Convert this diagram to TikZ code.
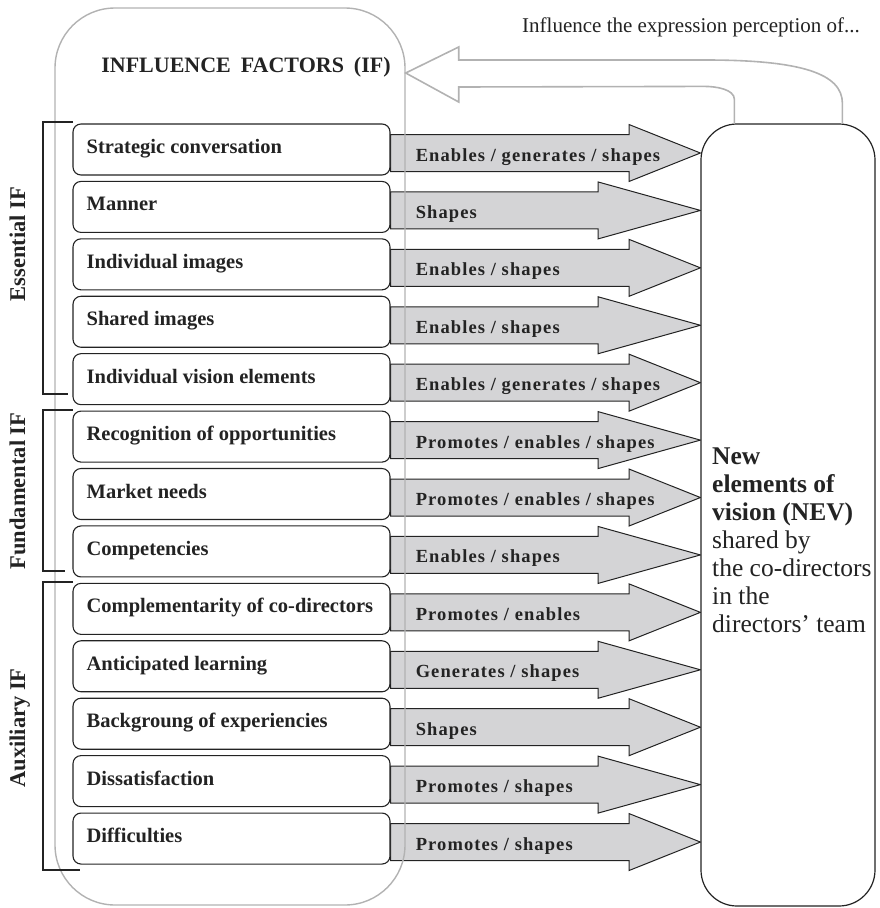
\documentclass[tikz,border=0pt]{standalone}
\usepackage{fontspec}
\setmainfont{Liberation Serif}
\newfontfamily\spacedbf[LetterSpace=6]{Liberation Serif}
\usetikzlibrary{calc,backgrounds}

\definecolor{arrowgray}{RGB}{212,212,214}
\definecolor{framegray}{RGB}{178,178,178}
\definecolor{inkdark}{RGB}{35,35,35}

\tikzset{
  factor/.style={draw=inkdark, line width=1.1pt, rounded corners=8pt, fill=white,
    minimum width=317pt, minimum height=51pt, inner sep=0pt},
  factortext/.style={inner sep=0pt, text=inkdark, font=\fontsize{20.5}{24}\selectfont\bfseries},
  flow/.style={draw=inkdark, fill=arrowgray, line width=1pt, line join=miter},
  verbtext/.style={inner sep=0pt, text=inkdark, font=\fontsize{18.5}{22}\spacedbf\bfseries},
  grouptext/.style={inner sep=0pt, text=inkdark, rotate=90, anchor=base,
    font=\fontsize{22.5}{26}\selectfont\bfseries},
  bracket/.style={draw=inkdark, line width=1.3pt},
  feedback/.style={draw=framegray, line width=1.6pt, line join=miter},
}

\begin{document}
\begin{tikzpicture}[x=1pt, y=-1pt]
    \useasboundingbox (0,0) rectangle (880,908);

    % Rahmen der Einflussfaktoren
    \node[draw=framegray, line width=1.4pt, rounded corners=60pt,
      minimum width=350pt, minimum height=897pt] (ifbox) at (230,456.5) {};
    \node[inner sep=0pt, text=inkdark, font=\fontsize{22}{26}\selectfont\bfseries]
      (title) at (246,67) {INFLUENCE\hspace{10pt}FACTORS\hspace{10pt}(IF)};

    % Neue Visionselemente
    \node[draw=inkdark, line width=1.2pt, rounded corners=36pt, fill=white,
      minimum width=174pt, minimum height=782pt] (nev) at (788,515) {};
    \node[anchor=north west, inner sep=0pt, align=left, text=inkdark,
      font=\fontsize{25.5}{28}\selectfont] (nevtext) at (712,448)
      {\textbf{New}\\ \textbf{elements of}\\ \textbf{vision (NEV)}\\ shared by\\
       the co-directors\\ in the\\ directors’ team};

    % Faktoren und Pfeile
    \foreach \txt/\verb/\hb [count=\i] in {
        {Strategic conversation}/{Enables / generates / shapes}/629,
        {Manner}/{Shapes}/598,
        {Individual images}/{Enables / shapes}/629,
        {Shared images}/{Enables / shapes}/598,
        {Individual vision elements}/{Enables / generates / shapes}/629,
        {Recognition of opportunities}/{Promotes / enables / shapes}/598,
        {Market needs}/{Promotes / enables / shapes}/629,
        {Competencies}/{Enables / shapes}/598,
        {Complementarity of co-directors}/{Promotes / enables}/629,
        {Anticipated learning}/{Generates / shapes}/598,
        {Backgroung of experiencies}/{Shapes}/629,
        {Dissatisfaction}/{Promotes / shapes}/598,
        {Difficulties}/{Promotes / shapes}/629} {
        \node[factor] (r\i) at (231.5,{149.5+57.42*(\i-1)}) {};
        \node[factortext, anchor=base west] (t\i) at ($(r\i.west)+(14,4)$) {\txt};
        \coordinate (s\i) at ($(r\i.east)+(0,3.5)$);
        \coordinate (hx\i) at (\hb,0);
        \coordinate (h\i) at (s\i -| hx\i);
        \coordinate (tip\i) at (nev.west |- s\i);
        \begin{pgfonlayer}{background}
          \filldraw[flow] ($(s\i)+(0,-18.5)$) -- ($(h\i)+(0,-18.5)$) -- ($(h\i)+(0,-28.5)$)
            -- (tip\i) -- ($(h\i)+(0,28.5)$) -- ($(h\i)+(0,18.5)$) -- ($(s\i)+(0,18.5)$) -- cycle;
        \end{pgfonlayer}
        \node[verbtext, anchor=base west] (v\i) at ($(s\i)+(25,8)$) {\verb};
    }

    % Gruppenklammern
    \draw[bracket] (73,122) -- (43,122) -- (43,394) -- (68,394);
    \draw[bracket] (73,410) -- (43,410) -- (43,571) -- (65,571);
    \draw[bracket] (73,582) -- (43,582) -- (43,870) -- (80,870);
    \node[grouptext] (essential) at (25,244) {Essential IF};
    \node[grouptext] (fundamental) at (25,491) {Fundamental IF};
    \node[grouptext] (auxiliary) at (25,728) {Auxiliary IF};

    % Rueckwirkung
    \coordinate (fbtip) at ($(ifbox.east |- title.center)+(0,6)$);
    \coordinate (fbin) at ($(nev.north west)+(34,0)$);
    \coordinate (fbout) at ($(nev.north west)+(142,0)$);
    \draw[feedback] (fbin) -- ++(0,-24) .. controls +(0,-10) and +(12,0) .. ++(-30,-13)
      -- ($(fbtip)+(53,14)$) -- ++(0,15) -- (fbtip) -- ++(53,-26) -- ++(0,13)
      -- ++(247,0) .. controls +(95,0) and +(0,-30) .. ($(fbout)+(0,-20)$) -- (fbout);
    \node[anchor=base west, inner sep=0pt, text=inkdark, font=\fontsize{21}{24}\selectfont]
      (note) at (522,32) {Influence the expression perception of...};
\end{tikzpicture}
\end{document}
